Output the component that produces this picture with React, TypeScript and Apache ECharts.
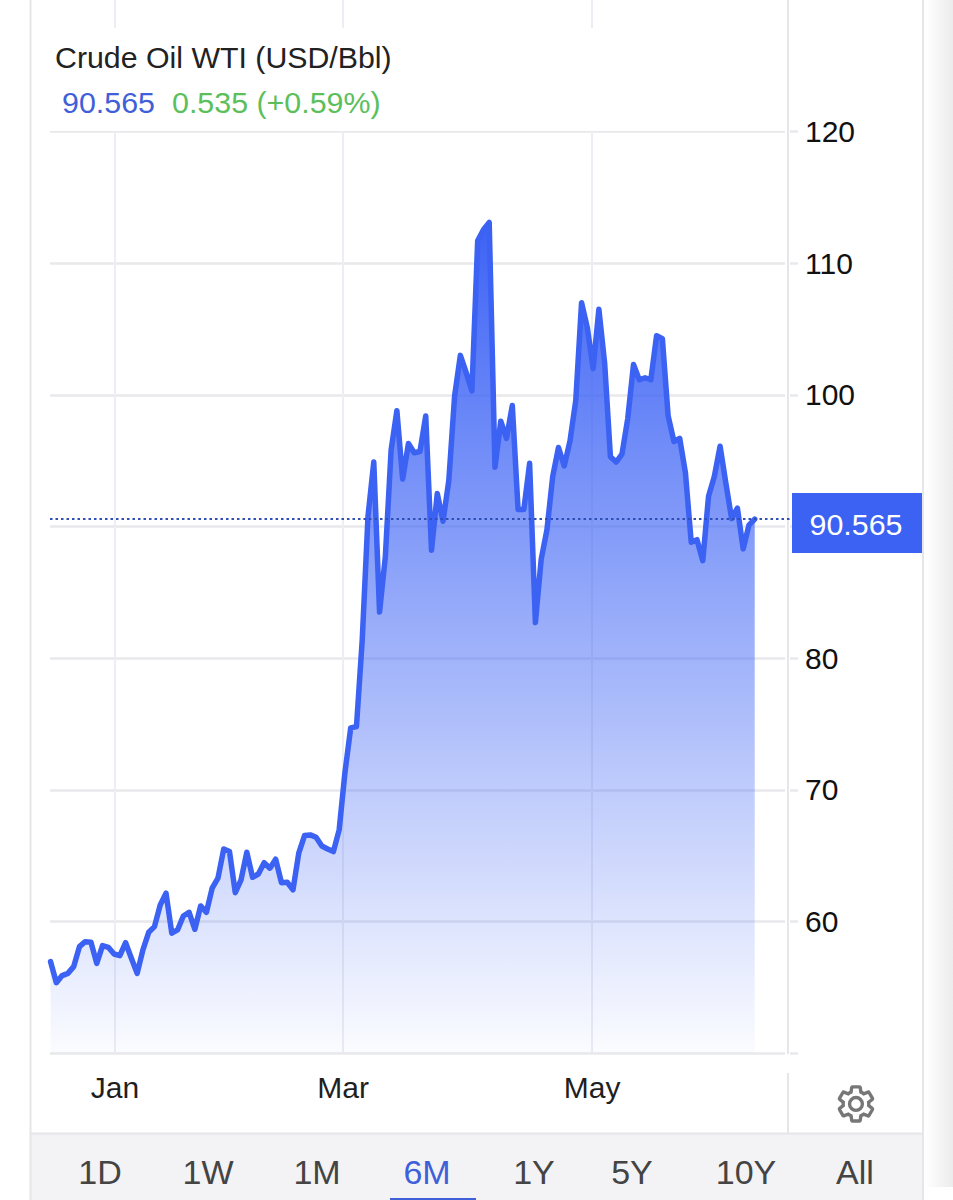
import React, { useEffect, useRef } from "react";
import * as echarts from "echarts";

const titleText = "Crude Oil WTI (USD/Bbl)";
const lastText = "90.565";
const changeText = "0.535 (+0.59%)";
const lastValue = 90.565;
const ranges = ["1D", "1W", "1M", "6M", "1Y", "5Y", "10Y", "All"];
const activeRange = "6M";
const monthNames = ["Jan", "Mar", "May"];
const monthTicks = [11.17, 50.68, 93.83];

const prices = [
  56.94, 55.34, 55.88, 56.05, 56.56, 58.08, 58.46, 58.41, 56.81, 58.16,
  58.03, 57.52, 57.4, 58.38, 57.2, 56.05, 57.83, 59.17, 59.6, 61.25,
  62.14, 59.1, 59.35, 60.41, 60.69, 59.4, 61.17, 60.69, 62.52, 63.28,
  65.5, 65.3, 62.18, 63.15, 65.25, 63.35, 63.6, 64.46, 64.04, 64.72,
  62.94, 62.97, 62.39, 65.18, 66.52, 66.57, 66.39, 65.73, 65.5, 65.3,
  66.95, 71.3, 74.7, 74.8, 81.4, 90.8, 94.9, 83.5, 87.7, 95.8,
  98.8, 93.6, 96.3, 95.6, 95.7, 98.4, 88.2, 92.5, 90.4, 93.5,
  99.9, 103.0, 101.7, 100.3, 111.7, 112.55, 113.1, 94.5, 98.0, 96.7,
  99.2, 91.3, 91.3, 94.8, 82.7, 87.5, 89.75, 93.8, 96.0, 94.6,
  96.5, 99.6, 107.0, 105.1, 102.0, 106.5, 102.4, 95.3, 94.9, 95.5,
  98.2, 102.3, 101.15, 101.3, 101.15, 104.5, 104.27, 98.4, 96.46, 96.7,
  94.06, 88.8, 89.0, 87.4, 92.3, 93.8, 96.1, 93.3, 90.6, 91.4,
  88.3, 90.1, 90.565,
];

const gearPath =
  "M19.14 12.94c.04-.3.06-.61.06-.94 0-.32-.02-.64-.07-.94l2.03-1.58c.18-.14.23-.41.12-.61l-1.92-3.32c-.12-.22-.37-.29-.59-.22l-2.39.96c-.5-.38-1.03-.7-1.62-.94l-.36-2.54c-.04-.24-.24-.41-.48-.41h-3.84c-.24 0-.43.17-.47.41l-.36 2.54c-.59.24-1.13.57-1.62.94l-2.39-.96c-.22-.08-.47 0-.59.22L2.74 8.87c-.12.21-.08.47.12.61l2.03 1.58c-.05.3-.09.63-.09.94s.02.64.07.94l-2.03 1.58c-.18.14-.23.41-.12.61l1.92 3.32c.12.22.37.29.59.22l2.39-.96c.5.38 1.03.7 1.62.94l.36 2.54c.05.24.24.41.48.41h3.84c.24 0 .44-.17.47-.41l.36-2.54c.59-.24 1.13-.56 1.62-.94l2.39.96c.22.08.47 0 .59-.22l1.92-3.32c.12-.22.07-.47-.12-.61l-2.01-1.58zM12 15.6c-1.98 0-3.6-1.62-3.6-3.6s1.62-3.6 3.6-3.6 3.6 1.62 3.6 3.6-1.62 3.6-3.6 3.6z";

const FONT = "'Liberation Sans', Arial, Helvetica, sans-serif";
const BLUE = "#3b62f2";
const GRID = "#e9e9ec";
const FRAME = "#e5e5ea";
const rangeCentres = [100, 208, 317, 427, 534, 632, 746, 855];

export default function App() {
  const ref = useRef<HTMLDivElement>(null);
  useEffect(() => {
    if (!ref.current) return;
    echarts.graphic.registerShape("gear", echarts.graphic.extendPath(gearPath, {}));
    const chart = echarts.init(ref.current, undefined, { renderer: "svg" });
    const line = (x1: number, y1: number, x2: number, y2: number, z = 1) => ({
      type: "line", z, shape: { x1, y1, x2, y2 }, style: { stroke: FRAME, lineWidth: 2 }, silent: true,
    });
    const text = (x: number, y: number, t: string, fill: string, size: number, align = "left") => ({
      type: "text", z: 12, x, y, silent: true,
      style: { text: t, fill, font: `${size}px ${FONT}`, textAlign: align, textVerticalAlign: "middle" },
    });
    chart.setOption({
      animation: false,
      backgroundColor: "#ffffff",
      grid: { left: 50, top: 0, right: 155, bottom: 147 },
      xAxis: {
        type: "value",
        min: -0.1,
        max: 129.5,
        axisLine: { show: false },
        axisTick: { show: false, customValues: monthTicks },
        axisLabel: {
          customValues: monthTicks,
          margin: 19,
          color: "#1f1f1f",
          fontSize: 30,
          fontFamily: FONT,
          formatter: (v: number) => monthNames[monthTicks.indexOf(v)] ?? "",
        },
        splitLine: { show: true, lineStyle: { color: "#eceef3", width: 2 } },
      },
      yAxis: {
        type: "value",
        position: "right",
        min: 50,
        max: 130,
        interval: 10,
        axisLine: { show: false },
        axisTick: { show: false },
        axisLabel: {
          margin: 7,
          color: "#111111",
          fontSize: 30,
          fontFamily: FONT,
          showMaxLabel: false,
          showMinLabel: false,
          formatter: (v: number) => (v === 90 ? "" : String(v)),
        },
        splitLine: { show: true, showMaxLine: false, lineStyle: { color: GRID, width: 2.5 } },
      },
      series: [
        {
          type: "line",
          data: prices.map((p, i) => [i, p]),
          showSymbol: false,
          symbol: "none",
          smooth: false,
          lineStyle: { color: BLUE, width: 5.5, join: "round", cap: "round" },
          areaStyle: {
            opacity: 1,
            color: new echarts.graphic.LinearGradient(0, 0, 0, 1, [
              { offset: 0, color: "rgba(61,99,245,1)" },
              { offset: 1, color: "rgba(61,99,245,0.02)" },
            ]),
          },
          markLine: {
            silent: true,
            symbol: "none",
            label: { show: false },
            lineStyle: { color: "#2f4fb5", width: 2.2, type: [2.5, 3], opacity: 1 },
            data: [{ yAxis: lastValue }],
          },
        },
      ],
      graphic: [
        {
          type: "rect", z: 1, shape: { x: 925, y: 0, width: 28, height: 1187 }, silent: true,
          style: {
            fill: new echarts.graphic.LinearGradient(0, 0, 1, 0, [
              { offset: 0, color: "#ffffff" },
              { offset: 1, color: "#ececec" },
            ]),
          },
        },
        { type: "rect", z: 1, shape: { x: 32, y: 28, width: 755, height: 103 }, style: { fill: "#ffffff" }, silent: true },
        { type: "rect", z: 1, shape: { x: 785, y: 0, width: 5, height: 1060 }, style: { fill: "#ffffff" }, silent: true },
        line(788, 0, 788, 1054),
        line(788, 1073, 788, 1133),
        { type: "rect", z: 1, shape: { x: 30, y: 1133, width: 893, height: 67 }, style: { fill: "#f3f3f5" }, silent: true },
        line(30, 1133.5, 923, 1133.5),
        line(30.5, 0, 30.5, 1200),
        line(923, 0, 923, 1200),
        text(55, 57, titleText, "#222222", 30.3),
        text(62, 102, lastText, "#3f60d8", 30.4),
        text(172, 102, changeText, "#5cbf5c", 30.4),
        { type: "rect", z: 10, shape: { x: 792, y: 493, width: 130, height: 60 }, style: { fill: BLUE }, silent: true },
        text(856, 524, lastText, "#ffffff", 30.4, "center"),
        ...ranges.map((r, i) =>
          text(rangeCentres[i], 1172, r, r === activeRange ? "#3f60d8" : "#444444", 34, "center"),
        ),
        { type: "rect", z: 12, shape: { x: 390, y: 1198, width: 86, height: 2 }, style: { fill: "#3f60d8" }, silent: true },
        { type: "gear", z: 12, x: 834.6, y: 1082.6, scaleX: 1.78, scaleY: 1.78, style: { fill: "none", stroke: "#777777", lineWidth: 1.9 }, silent: true },
      ],
    });
    return () => chart.dispose();
  }, []);
  return <div ref={ref} style={{ position: "absolute", left: 0, top: 0, width: 953, height: 1200 }} />;
}
